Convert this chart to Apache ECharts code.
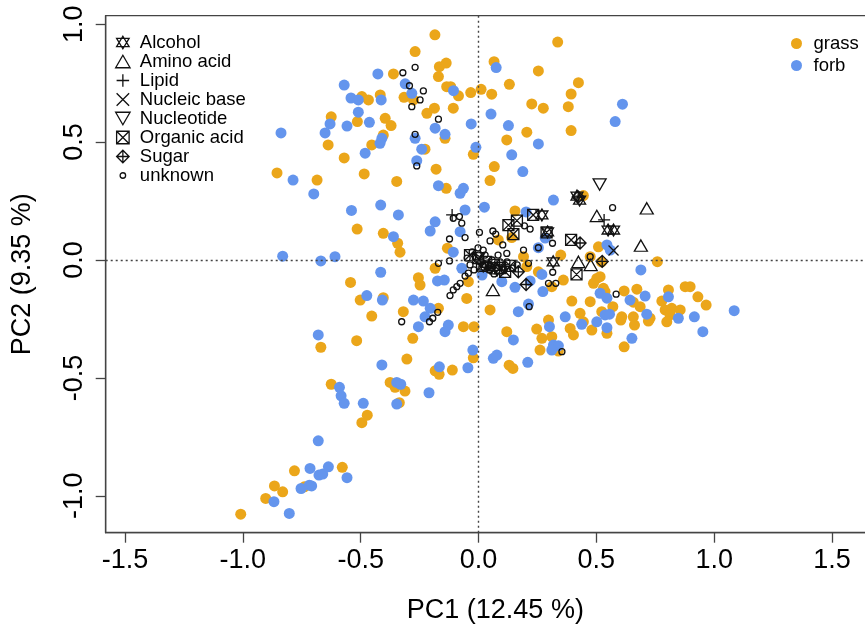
<!DOCTYPE html>
<html>
<head>
<meta charset="utf-8">
<script src="https://cdn.jsdelivr.net/npm/echarts@6/dist/echarts.min.js"></script>
<style>
  html, body { margin: 0; padding: 0; background: #fff; }
  #chart { width: 865px; height: 625px; }
</style>
</head>
<body>
<div id="chart"></div>
<script>
// tick labels
const xTicks = [-1.5, -1.0, -0.5, 0.0, 0.5, 1.0, 1.5];
const yTicks = [-1.0, -0.5, 0.0, 0.5, 1.0];

const groups = ['grass', 'forb'];
const classes = ['Alcohol', 'Amino acid', 'Lipid', 'Nucleic base', 'Nucleotide', 'Organic acid', 'Sugar', 'unknown'];

// samples (PC1, PC2)
const grassPts = [
  [-0.625,0.607],[-0.638,0.488],[-0.570,0.433],[-0.855,0.369],[-0.685,0.339],[-0.185,0.955],[0.336,0.924],
  [-0.269,0.884],[-0.361,0.789],[-0.166,0.820],[-0.137,0.835],[0.066,0.841],[0.254,0.802],[0.424,0.752],
  [0.131,0.745],[-0.170,0.778],[-0.316,0.690],[-0.276,0.679],[-0.135,0.735],[-0.118,0.735],[-0.085,0.696],
  [-0.033,0.710],[0.011,0.724],[0.056,0.703],[0.393,0.704],[0.226,0.662],[0.275,0.644],[0.381,0.650],
  [-0.107,0.644],[-0.187,0.644],[-0.219,0.622],[-0.495,0.693],[-0.467,0.679],[-0.417,0.700],[-0.396,0.601],
  [-0.371,0.570],[-0.514,0.587],[-0.142,0.516],[0.205,0.542],[0.393,0.549],[0.120,0.509],[-0.404,0.530],
  [-0.453,0.488],[-0.227,0.470],[-0.022,0.448],[-0.180,0.385],[0.067,0.396],[-0.485,0.365],[0.049,0.337],
  [-0.347,0.333],[-0.137,0.304],[0.155,0.208],[0.445,0.273],[-0.515,0.131],[-0.404,0.113],[-0.343,0.071],
  [-0.333,0.033],[-0.132,0.050],[0.084,0.085],[0.141,0.095],[0.191,0.014],[0.205,-0.028],[0.349,0.021],
  [0.509,0.056],[0.474,0.014],[-0.184,-0.035],[-0.255,-0.075],[-0.248,-0.106],[-0.043,-0.092],[-0.543,-0.095],
  [0.254,-0.050],[0.311,-0.113],[0.360,-0.085],[0.502,-0.078],[0.488,-0.099],[0.530,-0.120],[0.474,-0.177],
  [-0.502,-0.170],[-0.404,-0.160],[-0.050,-0.163],[-0.319,-0.219],[-0.453,-0.238],[-0.170,-0.205],[-0.064,-0.283],
  [-0.019,-0.283],[0.049,-0.212],[0.120,-0.304],[0.297,-0.255],[0.247,-0.293],[0.396,-0.174],[0.431,-0.226],
  [0.445,-0.262],[0.481,-0.297],[0.389,-0.290],[0.403,-0.318],[0.269,-0.332],[0.311,-0.325],[-0.517,-0.342],
  [-0.279,-0.332],[0.522,-0.008],[0.759,-0.007],[0.516,-0.071],[0.537,-0.134],[0.618,-0.131],[0.672,-0.124],
  [0.657,-0.179],[0.686,-0.198],[0.570,-0.198],[0.523,-0.219],[0.608,-0.241],[0.604,-0.255],[0.657,-0.241],
  [0.662,-0.276],[0.728,-0.247],[0.721,-0.259],[0.778,-0.174],[0.806,-0.127],[0.877,-0.113],[0.898,-0.113],
  [0.931,-0.156],[0.966,-0.191],[0.792,-0.212],[0.820,-0.205],[0.856,-0.212],[0.813,-0.233],[0.799,-0.262],
  [0.545,-0.311],[0.618,-0.368],[-0.669,-0.370],[-0.304,-0.420],[-0.375,-0.519],[-0.354,-0.540],[-0.312,-0.556],
  [-0.336,-0.605],[-0.472,-0.658],[-0.495,-0.690],[-0.184,-0.470],[-0.167,-0.485],[-0.111,-0.467],[-0.022,-0.415],
  [0.130,-0.446],[0.146,-0.460],[0.261,-0.382],[0.339,-0.386],[-0.625,-0.527],[-0.781,-0.894],[-0.578,-0.879],
  [-0.866,-0.958],[-0.831,-0.983],[-0.903,-1.011],[-0.739,-0.962],[-1.009,-1.078]
];

const forbPts = [
  [-0.570,0.742],[-0.541,0.687],[-0.630,0.577],[-0.558,0.568],[-0.838,0.539],[-0.651,0.539],[-0.787,0.339],
  [0.075,0.816],[-0.427,0.789],[-0.311,0.747],[-0.283,0.707],[-0.106,0.718],[-0.510,0.679],[-0.413,0.679],
  [-0.510,0.627],[-0.463,0.584],[0.053,0.619],[-0.031,0.577],[-0.184,0.559],[-0.142,0.533],[0.127,0.570],
  [0.254,0.492],[-0.269,0.516],[-0.410,0.516],[-0.418,0.495],[-0.481,0.453],[-0.241,0.470],[-0.011,0.478],
  [0.141,0.446],[-0.262,0.421],[0.188,0.375],[0.611,0.661],[0.580,0.587],[-0.699,0.280],[-0.539,0.210],
  [-0.831,0.016],[-0.669,-0.004],[-0.609,0.014],[-0.680,-0.318],[-0.170,0.315],[-0.078,0.283],[-0.064,0.304],
  [-0.415,0.233],[-0.340,0.191],[-0.057,0.212],[0.025,0.224],[0.318,0.254],[-0.361,0.099],[-0.184,0.162],
  [-0.205,0.123],[-0.078,0.120],[-0.107,0.033],[0.254,0.052],[0.545,0.064],[-0.415,-0.052],[-0.071,-0.035],
  [-0.174,-0.089],[-0.145,-0.085],[0.099,-0.092],[0.155,-0.116],[0.219,-0.089],[0.269,-0.061],[0.273,-0.134],
  [0.516,-0.141],[0.545,-0.162],[-0.474,-0.151],[-0.408,-0.170],[-0.276,-0.170],[-0.234,-0.174],[-0.205,-0.205],
  [-0.227,-0.241],[-0.255,-0.283],[-0.128,-0.276],[-0.142,-0.304],[0.169,-0.219],[0.148,-0.339],[0.212,-0.187],
  [0.301,-0.283],[0.368,-0.241],[0.438,-0.273],[0.502,-0.262],[0.537,-0.233],[0.318,-0.361],[0.339,-0.364],
  [-0.024,-0.382],[0.689,-0.042],[0.643,-0.170],[0.707,-0.153],[0.556,-0.230],[0.714,-0.230],[0.806,-0.156],
  [0.848,-0.247],[0.916,-0.241],[1.085,-0.215],[0.952,-0.304],[0.545,-0.287],[0.651,-0.332],[-0.410,-0.445],
  [-0.347,-0.519],[-0.330,-0.527],[-0.347,-0.611],[-0.489,-0.608],[-0.166,-0.453],[-0.210,-0.563],[-0.045,-0.457],
  [0.063,-0.417],[0.078,-0.403],[0.209,-0.434],[0.311,-0.382],[-0.590,-0.540],[-0.583,-0.576],[-0.570,-0.608],
  [-0.680,-0.767],[-0.715,-0.884],[-0.677,-0.912],[-0.661,-0.908],[-0.637,-0.877],[-0.558,-0.923],[-0.868,-1.025],
  [-0.753,-0.969],[-0.718,-0.955],[-0.708,-0.958],[-0.803,-1.075],[0.559,0.042],[0.202,0.204],[0.283,0.093],
  [0.015,-0.064]
];

// metabolite loadings
const unknownPts = [
  [-0.269,0.817],[-0.321,0.794],[-0.293,0.739],[-0.234,0.717],[-0.248,0.679],[-0.283,0.650],[-0.170,0.597],
  [-0.269,0.533],[-0.262,0.399],[-0.107,0.177],[-0.081,0.184],[-0.071,0.156],[-0.057,0.095],[-0.123,0.089],
  [-0.170,-0.014],[-0.123,-0.004],[0.004,0.117],[0.061,0.123],[0.073,0.110],[0.049,0.081],[0.103,0.064],
  [0.120,0.028],[0.191,0.042],[0.219,0.131],[0.195,0.145],[0.314,0.071],[0.254,0.052],[-0.043,-0.056],
  [-0.057,-0.068],[-0.078,-0.099],[-0.092,-0.113],[-0.107,-0.127],[-0.121,-0.151],[-0.173,-0.222],[-0.194,-0.247],
  [-0.208,-0.262],[-0.326,-0.262],[0.215,-0.198],[0.297,-0.099],[0.328,-0.099],[0.315,-0.052],[0.354,-0.389],
  [0.000,0.021],[0.474,0.014],[0.569,0.222],[0.584,-0.145],[0.212,-0.014],[-0.027,0.034],[-0.010,0.008],
  [0.007,-0.008],[0.028,0.021],[0.041,-0.021],[0.058,0.000],[0.075,-0.034],[0.092,-0.008],[0.109,-0.042],
  [-0.036,-0.021],[-0.019,-0.042],[-0.002,0.051],[0.020,0.042],[0.083,0.021],[0.045,-0.042],[0.121,-0.008],
  [0.143,-0.034],[0.164,-0.021],[-0.048,0.008],[0.066,-0.059]
];
const organicPts = [
  [0.127,0.148],[0.163,0.167],[0.148,0.110],[0.232,0.191],[0.289,0.117],[0.393,0.085],[0.416,-0.061],
  [0.113,-0.050],[-0.002,0.008],[0.032,-0.008],[0.066,-0.021],[0.092,-0.034],[-0.036,0.021],[0.015,-0.025],
  [0.134,-0.025]
];
const alcoholPts = [
  [0.418,0.271],[0.429,0.254],[0.269,0.191],[0.293,0.119],[0.317,-0.008],[0.550,0.127],[0.573,0.127],
  [0.020,-0.025],[0.079,-0.042]
];
const sugarPts = [[0.431,0.072],[0.525,-0.006],[0.169,-0.050],[0.202,-0.104],[0.423,0.267],[0.049,-0.034]];
const aminoPts = [[0.502,0.187],[0.714,0.219],[0.689,0.061],[0.424,-0.008],[0.476,-0.021],[0.061,-0.127]];
const lipidPts = [[-0.112,0.191],[0.533,0.170]];
const nucleicPts = [[0.573,0.040],[0.007,0.008]];
const nucleotidePts = [[0.514,0.320]];

const FONT = '"Liberation Sans", Arial, sans-serif';
const grassColor = '#EBA61A';
const forbColor = '#6495ED';

// R-like point shapes
const shapes = {
  'Alcohol': 'path://M5,0 L10,8.3 L0,8.3 Z M0,1.7 L10,1.7 L5,10 Z',
  'Amino acid': 'path://M5,0 L10,8.66 L0,8.66 Z',
  'Lipid': 'path://M5,0 L5,10 M0,5 L10,5',
  'Nucleic base': 'path://M0,0 L10,10 M10,0 L0,10',
  'Nucleotide': 'path://M0,0 L10,0 L5,8.66 Z',
  'Organic acid': 'path://M0,0 L10,0 L10,10 L0,10 Z M0,0 L10,10 M10,0 L0,10',
  'Sugar': 'path://M5,0 L10,5 L5,10 L0,5 Z M5,0 L5,10 M0,5 L10,5',
  'unknown': 'circle'
};
const sizes = {
  'Alcohol': [12, 12], 'Amino acid': [13, 11.3], 'Lipid': 12, 'Nucleic base': 10,
  'Nucleotide': [13, 11.3], 'Organic acid': 11, 'Sugar': 12, 'unknown': 6
};
const classData = {
  'Alcohol': alcoholPts, 'Amino acid': aminoPts, 'Lipid': lipidPts, 'Nucleic base': nucleicPts,
  'Nucleotide': nucleotidePts, 'Organic acid': organicPts, 'Sugar': sugarPts, 'unknown': unknownPts
};

const chart = echarts.init(document.getElementById('chart'), null, { renderer: 'canvas' });

const series = [
  {
    name: 'ref',
    type: 'scatter',
    data: [],
    silent: true,
    markLine: {
      silent: true,
      symbol: ['none', 'none'],
      label: { show: false },
      lineStyle: { type: [2, 3], color: '#444', width: 1.4 },
      data: [{ xAxis: 0 }, { yAxis: 0 }]
    }
  },
  {
    name: 'grass',
    type: 'scatter',
    symbolSize: 11,
    itemStyle: { color: grassColor, opacity: 1 },
    data: grassPts
  },
  {
    name: 'forb',
    type: 'scatter',
    symbolSize: 11,
    itemStyle: { color: forbColor, opacity: 1 },
    data: forbPts
  }
];

classes.forEach(c => {
  series.push({
    name: c,
    type: 'scatter',
    symbol: shapes[c],
    symbolSize: sizes[c],
    itemStyle: { color: 'rgba(0,0,0,0)', borderColor: '#111', borderWidth: 1.3, opacity: 1 },
    data: classData[c]
  });
});

const tickLabel = v => Number(v).toFixed(1);

chart.setOption({
  animation: false,
  backgroundColor: '#fff',
  textStyle: { fontFamily: FONT },
  grid: {
    left: 105.7, top: 15.7, right: -20, bottom: 92.3,
    show: true, borderColor: '#444', borderWidth: 1.3,
    containLabel: false, outerBoundsMode: 'none'
  },
  legend: [
    {
      data: classes.map(c => c === 'unknown'
        ? { name: c, icon: 'path://M0,0 M10,10 M5,2.8 A2.2,2.2 0 1 1 5,7.2 A2.2,2.2 0 1 1 5,2.8 Z' }
        : { name: c }),
      orient: 'vertical',
      left: 110, top: 28,
      itemWidth: 24, itemHeight: 12.5, itemGap: 0,
      itemStyle: { borderWidth: 1.3 },
      textStyle: { fontSize: 18.5, lineHeight: 18, color: '#000', fontFamily: FONT },
      selectedMode: false
    },
    {
      data: groups,
      orient: 'vertical',
      left: 786, top: 29,
      itemWidth: 24, itemHeight: 11, itemGap: 3,
      textStyle: { fontSize: 18.5, lineHeight: 18, color: '#000', fontFamily: FONT },
      selectedMode: false
    }
  ],
  xAxis: {
    type: 'value',
    min: -1.582, max: 1.725,
    name: 'PC1 (12.45 %)',
    nameLocation: 'middle',
    nameGap: 64,
    nameTextStyle: { fontSize: 27, color: '#000', fontFamily: FONT },
    axisLine: { show: true, onZero: false, lineStyle: { color: '#444', width: 1.3 } },
    axisTick: { show: true, length: 10, customValues: xTicks, lineStyle: { color: '#444', width: 1.3 } },
    axisLabel: { customValues: xTicks, formatter: tickLabel, fontSize: 27, color: '#000', margin: 14, fontFamily: FONT },
    splitLine: { show: false }
  },
  yAxis: {
    type: 'value',
    min: -1.1565, max: 1.036,
    name: 'PC2 (9.35 %)',
    nameLocation: 'middle',
    nameRotate: 90,
    nameGap: 70,
    nameTextStyle: { fontSize: 27, color: '#000', fontFamily: FONT },
    axisLine: { show: true, onZero: false, lineStyle: { color: '#444', width: 1.3 } },
    axisTick: { show: true, length: 10, customValues: yTicks, lineStyle: { color: '#444', width: 1.3 } },
    axisLabel: { customValues: yTicks, formatter: tickLabel, rotate: 90, fontSize: 27, color: '#000', margin: 18, fontFamily: FONT },
    splitLine: { show: false }
  },
  series: series
});
</script>
</body>
</html>
